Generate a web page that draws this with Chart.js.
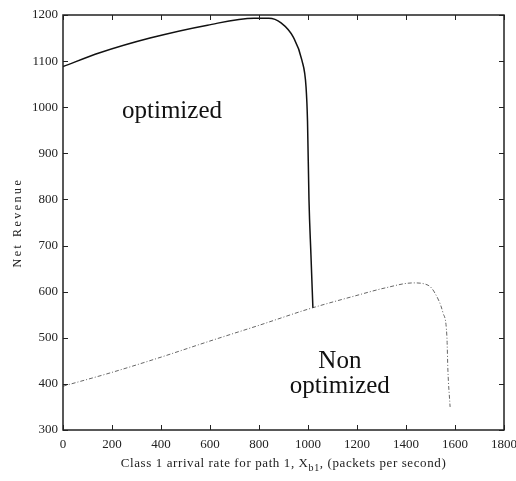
<!DOCTYPE html>
<html>
<head>
<meta charset="utf-8">
<script src="https://cdn.jsdelivr.net/npm/chart.js@4/dist/chart.umd.min.js"></script>
<style>
  html, body { margin: 0; padding: 0; background: #fff; }
  canvas { display: block; }
</style>
</head>
<body>
<canvas id="c" width="516" height="481"></canvas>
<script>
// ---- Data ----
const optimizedX = [0, 150, 355, 590, 780, 840, 890, 940, 975, 992, 998, 1004, 1012, 1020];
const optimizedY = [1088, 1118, 1150, 1178, 1193, 1193, 1183, 1152, 1102, 1044, 970, 800, 680, 565];

const nonOptimizedX = [0, 200, 400, 600, 800, 1000, 1200, 1314, 1430, 1490, 1518, 1551, 1567, 1571, 1580];
const nonOptimizedY = [395, 425, 458, 493, 527, 562, 592, 608, 619, 614, 597, 554, 502, 430, 350];

const xTicks = [0, 200, 400, 600, 800, 1000, 1200, 1400, 1600, 1800];
const yTicks = [300, 400, 500, 600, 700, 800, 900, 1000, 1100, 1200];

const yTitle = "Net Revenue";
const xTitleMain = "Class 1 arrival rate for path 1, X";
const xTitleSub = "b1";
const xTitleEnd = ", (packets per second)";

const labelOptimized = { text: ["optimized"], x: 445, y: [977] };
const labelNonOptimized = { text: ["Non", "optimized"], x: 1130, y: [434, 380] };

const SERIF = '"Liberation Serif", "Times New Roman", serif';

function toPoints(xs, ys) { return xs.map((x, i) => ({ x: x, y: ys[i] })); }

const frameAndTicks = {
  id: 'frameAndTicks',
  afterDatasetsDraw(chart) {
    const ctx = chart.ctx;
    const a = chart.chartArea;
    const xs = chart.scales.x, ys = chart.scales.y;
    const L = 5;
    ctx.save();
    ctx.strokeStyle = '#222';
    ctx.lineWidth = 1;
    ctx.beginPath();
    xs.ticks.forEach(t => {
      const px = Math.round(xs.getPixelForValue(t.value)) + 0.5;
      ctx.moveTo(px, a.bottom); ctx.lineTo(px, a.bottom - L);
      ctx.moveTo(px, a.top); ctx.lineTo(px, a.top + L);
    });
    ys.ticks.forEach(t => {
      const py = Math.round(ys.getPixelForValue(t.value)) + 0.5;
      ctx.moveTo(a.left, py); ctx.lineTo(a.left + L, py);
      ctx.moveTo(a.right, py); ctx.lineTo(a.right - L, py);
    });
    ctx.stroke();
    ctx.lineWidth = 1.5;
    ctx.strokeRect(a.left, a.top, a.right - a.left, a.bottom - a.top);

    // In-plot text labels
    ctx.fillStyle = '#111';
    ctx.font = '25px ' + SERIF;
    ctx.textAlign = 'center';
    ctx.textBaseline = 'alphabetic';
    [labelOptimized, labelNonOptimized].forEach(lab => {
      lab.text.forEach((s, i) => {
        ctx.fillText(s, xs.getPixelForValue(lab.x), ys.getPixelForValue(lab.y[i]));
      });
    });

    // X axis title with subscript
    ctx.fillStyle = '#222';
    try { ctx.letterSpacing = '0.6px'; } catch (e) {}
    ctx.font = '13px ' + SERIF;
    const main = ctx.measureText(xTitleMain).width;
    ctx.font = '10px ' + SERIF;
    const sub = ctx.measureText(xTitleSub).width;
    ctx.font = '13px ' + SERIF;
    const end = ctx.measureText(xTitleEnd).width;
    const total = main + sub + end;
    const cx = (a.left + a.right) / 2;
    const x0 = cx - total / 2;
    const base = 467;
    ctx.textAlign = 'left';
    ctx.fillText(xTitleMain, x0, base);
    ctx.font = '10px ' + SERIF;
    ctx.fillText(xTitleSub, x0 + main, base + 4);
    ctx.font = '13px ' + SERIF;
    ctx.fillText(xTitleEnd, x0 + main + sub, base);

    // Y axis title
    ctx.save();
    ctx.translate(18, (a.top + a.bottom) / 2);
    ctx.rotate(-Math.PI / 2);
    ctx.textAlign = 'center';
    ctx.textBaseline = 'middle';
    ctx.font = '12px ' + SERIF;
    try { ctx.letterSpacing = '2.5px'; } catch (e) {}
    ctx.fillText(yTitle, 0, 0);
    ctx.restore();
    ctx.restore();
  }
};

new Chart(document.getElementById('c'), {
  type: 'line',
  data: {
    datasets: [
      {
        label: 'optimized',
        data: toPoints(optimizedX, optimizedY),
        borderColor: '#111',
        borderWidth: 1.5,
        pointRadius: 0,
        cubicInterpolationMode: 'monotone',
        fill: false
      },
      {
        label: 'Non optimized',
        data: toPoints(nonOptimizedX, nonOptimizedY),
        borderColor: '#666',
        borderWidth: 1,
        borderDash: [4, 2, 1, 2],
        pointRadius: 0,
        cubicInterpolationMode: 'monotone',
        fill: false
      }
    ]
  },
  options: {
    responsive: false,
    animation: false,
    devicePixelRatio: 1,
    layout: { padding: { left: 0, top: 15, right: 12, bottom: 0 } },
    plugins: { legend: { display: false }, tooltip: { enabled: false }, title: { display: false } },
    scales: {
      x: {
        type: 'linear',
        min: 0, max: 1800,
        afterBuildTicks(scale) { scale.ticks = xTicks.map(v => ({ value: v })); },
        afterFit(scale) { scale.height = 51; scale.paddingLeft = 0; scale.paddingRight = 0; },
        grid: { display: false, drawTicks: false },
        border: { display: false },
        ticks: {
          padding: 7, color: '#222', font: { family: SERIF, size: 13 }, maxRotation: 0, autoSkip: false,
          callback: v => String(v)
        }
      },
      y: {
        type: 'linear',
        min: 300, max: 1200,
        afterBuildTicks(scale) { scale.ticks = yTicks.map(v => ({ value: v })); },
        afterFit(scale) { scale.width = 63; scale.paddingTop = 0; scale.paddingBottom = 0; },
        grid: { display: false, drawTicks: false },
        border: { display: false },
        ticks: {
          padding: 5, color: '#222', font: { family: SERIF, size: 13 }, autoSkip: false,
          callback: v => String(v)
        }
      }
    }
  },
  plugins: [frameAndTicks]
});
</script>
</body>
</html>
